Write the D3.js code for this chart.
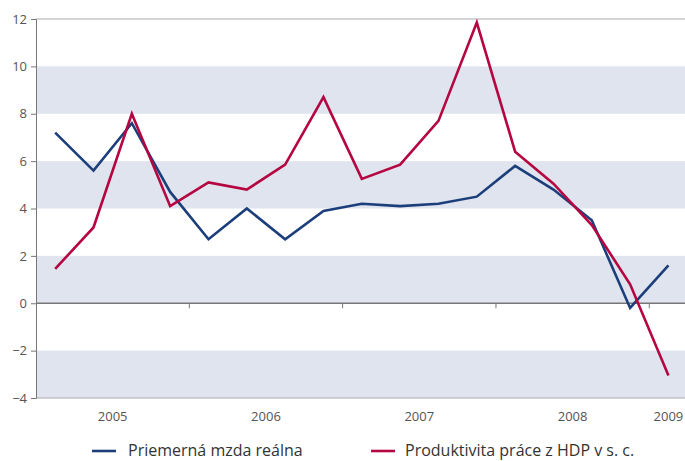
<!DOCTYPE html>
<html><head><meta charset="utf-8">
<script src="https://cdn.jsdelivr.net/npm/d3@7"></script>
<style>
html,body{margin:0;padding:0;background:#fff;}
svg{display:block;font-family:"Open Sans",sans-serif;}
</style></head>
<body>
<svg id="c" width="685" height="461"></svg>
<script>
const quarters = ["2005Q1","2005Q2","2005Q3","2005Q4","2006Q1","2006Q2","2006Q3","2006Q4","2007Q1","2007Q2","2007Q3","2007Q4","2008Q1","2008Q2","2008Q3","2008Q4","2009Q1"];
const mzda = [7.2, 5.6, 7.6, 4.7, 2.7, 4.0, 2.7, 3.9, 4.2, 4.1, 4.2, 4.5, 5.8, 4.8, 3.5, -0.2, 1.6];
const produktivita = [1.45, 3.2, 8.0, 4.1, 5.1, 4.8, 5.85, 8.7, 5.25, 5.85, 7.7, 11.85, 6.4, 5.05, 3.3, 0.8, -3.05];
const yearLabels = ["2005","2006","2007","2008","2009"];
const yTicks = [-4,-2,0,2,4,6,8,10,12];
const seriesNames = ["Priemerná mzda reálna","Produktivita práce z HDP v s. c."];

(function(){
const svg = d3.select("#c");
const mLeft = 36, mTop = 19, mBottom = 398;
const step = 38.33;
const mRight = mLeft + step * quarters.length;

const x = d3.scaleBand().domain(quarters).range([mLeft, mRight]).padding(0);
const y = d3.scaleLinear().domain([-4, 12]).range([mBottom, mTop]);

// bands
const bands = [[8,10],[4,6],[0,2],[-4,-2]];
svg.append("g").selectAll("rect").data(bands).join("rect")
  .attr("x", mLeft).attr("width", 685 - mLeft)
  .attr("y", d => y(d[1])).attr("height", d => y(d[0]) - y(d[1]))
  .attr("fill", "#dfe4ee");

// top and bottom border lines
svg.append("line").attr("x1", mLeft).attr("x2", 685).attr("y1", y(12)).attr("y2", y(12)).attr("stroke", "#aaa").attr("stroke-width", 1);
svg.append("line").attr("x1", mLeft).attr("x2", 685).attr("y1", y(-4)).attr("y2", y(-4)).attr("stroke", "#aaa").attr("stroke-width", 1);

// y axis
const yAxis = svg.append("g").attr("transform", `translate(${mLeft},0)`)
  .call(d3.axisLeft(y).tickValues(yTicks).tickSize(5).tickPadding(4).tickFormat(d3.format("d")));
yAxis.select(".domain").attr("stroke", "#777");
yAxis.selectAll(".tick line").attr("stroke", "#777");
yAxis.selectAll("text").attr("fill", "#555").style("font-size", "13px").style("font-family", "'Open Sans',sans-serif");

// zero line with ticks
const yearBoundaries = ["2006Q1","2007Q1","2008Q1","2009Q1"];
svg.append("line").attr("x1", mLeft).attr("x2", 685).attr("y1", y(0)).attr("y2", y(0)).attr("stroke", "#777").attr("stroke-width", 1.5);
svg.append("g").selectAll("line").data(yearBoundaries).join("line")
  .attr("x1", d => x(d)).attr("x2", d => x(d))
  .attr("y1", y(0)).attr("y2", y(0) + 5).attr("stroke", "#777");

// year labels
const yearCenters = yearLabels.map(yr => {
  const qs = quarters.filter(q => q.startsWith(yr));
  const a = x(qs[0]), b = x(qs[qs.length-1]) + x.bandwidth();
  return {yr, cx: (a + b) / 2};
});
svg.append("g").selectAll("text").data(yearCenters).join("text")
  .attr("x", d => d.cx).attr("y", 421).attr("text-anchor", "middle")
  .attr("fill", "#555").style("font-size", "13px").text(d => d.yr);

// lines
const line = d3.line().x((d, i) => x(quarters[i]) + x.bandwidth() / 2).y(d => y(d));
const colors = ["#1c3f7c", "#b50641"];
[mzda, produktivita].forEach((s, k) => {
  svg.append("path").datum(s).attr("d", line).attr("fill", "none")
    .attr("stroke", colors[k]).attr("stroke-width", 2.6).attr("stroke-linejoin", "miter");
});

// legend
const legend = [{x: 92, tx: 128}, {x: 371, tx: 405}];
legend.forEach((l, k) => {
  svg.append("line").attr("x1", l.x).attr("x2", l.x + 24).attr("y1", 451).attr("y2", 451)
    .attr("stroke", colors[k]).attr("stroke-width", 2.6);
  svg.append("text").attr("x", l.tx).attr("y", 456).attr("fill", "#333")
    .style("font-size", "16px").text(seriesNames[k]);
});
})();
</script>
</body></html>
